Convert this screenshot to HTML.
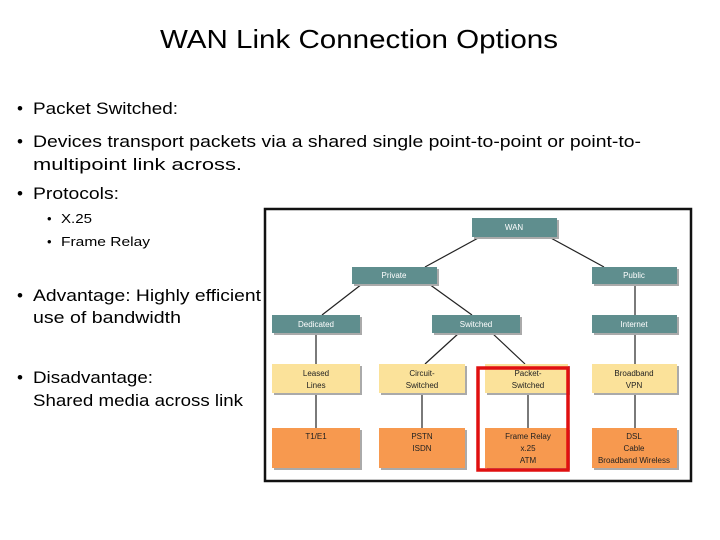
<!DOCTYPE html>
<html><head><style>
html,body{margin:0;padding:0;background:#fff;}
svg{display:block;}
.t{font-family:"Liberation Sans",sans-serif;fill:#000;}
.d{font-family:"Liberation Sans",sans-serif;font-size:8px;text-anchor:middle;}
</style></head><body>
<svg width="720" height="540" viewBox="0 0 720 540" xmlns="http://www.w3.org/2000/svg">
<rect width="720" height="540" fill="#fff"/>
<text class="t" x="359" y="48" font-size="26" text-anchor="middle" textLength="398" lengthAdjust="spacingAndGlyphs">WAN Link Connection Options</text>
<g class="t" font-size="17">
<text x="17" y="114">•</text><text x="33" y="114" textLength="145" lengthAdjust="spacingAndGlyphs">Packet Switched:</text>
<text x="17" y="147">•</text><text x="33" y="147" textLength="608" lengthAdjust="spacingAndGlyphs">Devices transport packets via a shared single point-to-point or point-to-</text>
<text x="33" y="170" textLength="209" lengthAdjust="spacingAndGlyphs">multipoint link across.</text>
<text x="17" y="199">•</text><text x="33" y="199" textLength="86" lengthAdjust="spacingAndGlyphs">Protocols:</text>
<text x="17" y="301">•</text><text x="33" y="301" textLength="228" lengthAdjust="spacingAndGlyphs">Advantage: Highly efficient</text>
<text x="33" y="323" textLength="148" lengthAdjust="spacingAndGlyphs">use of bandwidth</text>
<text x="17" y="383">•</text><text x="33" y="383" textLength="120" lengthAdjust="spacingAndGlyphs">Disadvantage:</text>
<text x="33" y="406" textLength="210" lengthAdjust="spacingAndGlyphs">Shared media across link</text>
</g>
<g class="t" font-size="13">
<text x="47" y="223">•</text><text x="61" y="223" textLength="31" lengthAdjust="spacingAndGlyphs">X.25</text>
<text x="47" y="246">•</text><text x="61" y="246" textLength="89" lengthAdjust="spacingAndGlyphs">Frame Relay</text>
</g>
<rect x="265" y="209" width="426" height="272" fill="#fff" stroke="#111" stroke-width="2.5"/>
<g stroke="#222" stroke-width="1.2">
<line x1="480" y1="237" x2="425" y2="267"/><line x1="549" y1="237" x2="604" y2="267"/>
<line x1="362" y1="284" x2="322" y2="315"/><line x1="429" y1="284" x2="472" y2="315"/>
<line x1="459" y1="333" x2="425" y2="364"/><line x1="492" y1="333" x2="525" y2="364"/>
<line x1="316" y1="333" x2="316" y2="428"/><line x1="422" y1="393" x2="422" y2="428"/>
<line x1="528" y1="393" x2="528" y2="428"/><line x1="635" y1="284" x2="635" y2="428"/>
</g>
<g stroke="none">
<g fill="#aaa">
<rect x="474" y="220" width="85" height="19"/><rect x="354" y="269" width="85" height="17"/><rect x="594" y="269" width="85" height="17"/>
<rect x="274" y="317" width="88" height="18"/><rect x="434" y="317" width="88" height="18"/><rect x="594" y="317" width="85" height="18"/>
<rect x="274" y="366" width="88" height="29"/><rect x="381" y="366" width="86" height="29"/><rect x="487" y="366" width="83" height="29"/><rect x="594" y="366" width="85" height="29"/>
<rect x="274" y="430" width="88" height="40"/><rect x="381" y="430" width="86" height="40"/><rect x="487" y="430" width="83" height="40"/><rect x="594" y="430" width="85" height="40"/>
</g>
<g fill="#5f8e8e">
<rect x="472" y="218" width="85" height="19"/><rect x="352" y="267" width="85" height="17"/><rect x="592" y="267" width="85" height="17"/>
<rect x="272" y="315" width="88" height="18"/><rect x="432" y="315" width="88" height="18"/><rect x="592" y="315" width="85" height="18"/>
</g>
<g fill="#fbe29a">
<rect x="272" y="364" width="88" height="29"/><rect x="379" y="364" width="86" height="29"/><rect x="485" y="364" width="83" height="29"/><rect x="592" y="364" width="85" height="29"/>
</g>
<g fill="#f7994f">
<rect x="272" y="428" width="88" height="40"/><rect x="379" y="428" width="86" height="40"/><rect x="485" y="428" width="83" height="40"/><rect x="592" y="428" width="85" height="40"/>
</g>
</g>
<g class="d" fill="#fff">
<text x="514" y="230">WAN</text><text x="394" y="278">Private</text><text x="634" y="278">Public</text>
<text x="316" y="327">Dedicated</text><text x="476" y="327">Switched</text><text x="634" y="327">Internet</text>
</g>
<g class="d" fill="#222">
<text x="316" y="376">Leased</text><text x="316" y="388">Lines</text>
<text x="422" y="376">Circuit-</text><text x="422" y="388">Switched</text>
<text x="528" y="376">Packet-</text><text x="528" y="388">Switched</text>
<text x="634" y="376">Broadband</text><text x="634" y="388">VPN</text>
<text x="316" y="439">T1/E1</text>
<text x="422" y="439">PSTN</text><text x="422" y="451">ISDN</text>
<text x="528" y="439">Frame Relay</text><text x="528" y="451">x.25</text><text x="528" y="463">ATM</text>
<text x="634" y="439">DSL</text><text x="634" y="451">Cable</text><text x="634" y="463">Broadband Wireless</text>
</g>
<rect x="478" y="368" width="90" height="102" fill="none" stroke="#e01010" stroke-width="3.5"/>
</svg>
</body></html>
